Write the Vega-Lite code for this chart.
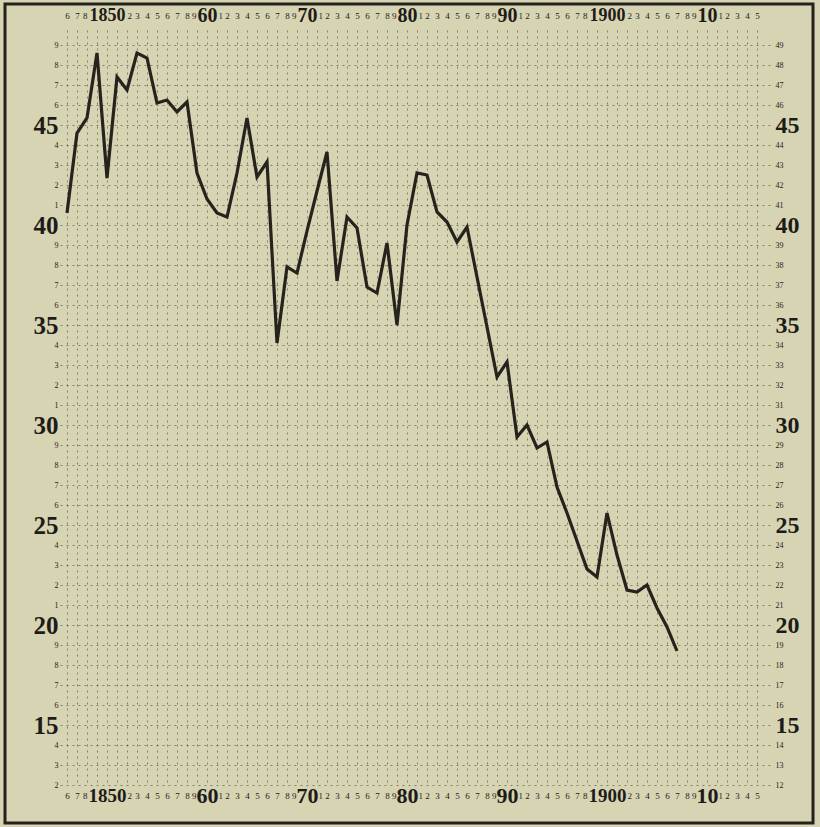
{
  "$schema": "https://vega.github.io/schema/vega-lite/v6.json",
  "width": 710,
  "height": 755,
  "autosize": {"type": "none"},
  "padding": {"left": 60, "top": 30, "right": 50, "bottom": 42},
  "background": "#d7d4b3",
  "config": {"view": {"stroke": null}},
  "datasets": {
    "series": [
      {"year": 1846, "value": 40.6}, {"year": 1847, "value": 44.6}, {"year": 1848, "value": 45.35},
      {"year": 1849, "value": 48.6}, {"year": 1850, "value": 42.35}, {"year": 1851, "value": 47.4},
      {"year": 1852, "value": 46.75}, {"year": 1853, "value": 48.6}, {"year": 1854, "value": 48.35},
      {"year": 1855, "value": 46.1}, {"year": 1856, "value": 46.25}, {"year": 1857, "value": 45.65},
      {"year": 1858, "value": 46.15}, {"year": 1859, "value": 42.6}, {"year": 1860, "value": 41.3},
      {"year": 1861, "value": 40.6}, {"year": 1862, "value": 40.4}, {"year": 1863, "value": 42.6},
      {"year": 1864, "value": 45.35}, {"year": 1865, "value": 42.4}, {"year": 1866, "value": 43.15},
      {"year": 1867, "value": 34.1}, {"year": 1868, "value": 37.9}, {"year": 1869, "value": 37.6},
      {"year": 1870, "value": 39.7}, {"year": 1871, "value": 41.7}, {"year": 1872, "value": 43.65},
      {"year": 1873, "value": 37.2}, {"year": 1874, "value": 40.4}, {"year": 1875, "value": 39.85},
      {"year": 1876, "value": 36.9}, {"year": 1877, "value": 36.6}, {"year": 1878, "value": 39.1},
      {"year": 1879, "value": 35.0}, {"year": 1880, "value": 40.0}, {"year": 1881, "value": 42.6},
      {"year": 1882, "value": 42.5}, {"year": 1883, "value": 40.65}, {"year": 1884, "value": 40.15},
      {"year": 1885, "value": 39.15}, {"year": 1886, "value": 39.9}, {"year": 1887, "value": 37.4},
      {"year": 1888, "value": 34.9}, {"year": 1889, "value": 32.4}, {"year": 1890, "value": 33.15},
      {"year": 1891, "value": 29.4}, {"year": 1892, "value": 30.0}, {"year": 1893, "value": 28.85},
      {"year": 1894, "value": 29.15}, {"year": 1895, "value": 26.9}, {"year": 1896, "value": 25.6},
      {"year": 1897, "value": 24.2}, {"year": 1898, "value": 22.8}, {"year": 1899, "value": 22.4},
      {"year": 1900, "value": 25.6}, {"year": 1901, "value": 23.5}, {"year": 1902, "value": 21.75},
      {"year": 1903, "value": 21.65}, {"year": 1904, "value": 22.0}, {"year": 1905, "value": 20.85},
      {"year": 1906, "value": 19.9}, {"year": 1907, "value": 18.7}
    ]
  },
  "resolve": {"axis": {"x": "independent", "y": "independent"}},
  "layer": [
    {
      "data": {"values": [{}]},
      "mark": {"type": "rect", "filled": false, "stroke": "#24221d", "strokeWidth": 3, "clip": false},
      "encoding": {
        "x": {"datum": 1839.8, "type": "quantitative", "scale": {"domain": [1845.3, 1916.3], "zero": false, "nice": false}, "axis": null},
        "x2": {"datum": 1920.6},
        "y": {"datum": 51.05, "type": "quantitative", "scale": {"domain": [12, 49.75], "zero": false, "nice": false}, "axis": null},
        "y2": {"datum": 10.1}
      }
    },
    {
      "data": {"name": "series"},
      "mark": {"type": "line", "color": "#26231e", "strokeWidth": 3.2, "strokeJoin": "miter"},
      "encoding": {
        "x": {
          "field": "year", "type": "quantitative",
          "scale": {"domain": [1845.3, 1916.3], "zero": false, "nice": false},
          "axis": {
            "orient": "bottom", "title": null, "domain": false, "ticks": false, "tickSize": 0,
            "values": [1846,1847,1848,1849,1850,1851,1852,1853,1854,1855,1856,1857,1858,1859,1860,1861,1862,1863,1864,1865,1866,1867,1868,1869,1870,1871,1872,1873,1874,1875,1876,1877,1878,1879,1880,1881,1882,1883,1884,1885,1886,1887,1888,1889,1890,1891,1892,1893,1894,1895,1896,1897,1898,1899,1900,1901,1902,1903,1904,1905,1906,1907,1908,1909,1910,1911,1912,1913,1914,1915],
            "labelExpr": "datum.value == 1850 ? '1850' : datum.value == 1900 ? '1900' : datum.value % 10 == 0 ? slice(toString(datum.value), 2) : (abs(datum.value - 1850) == 1 || abs(datum.value - 1900) == 1) ? '' : toString(datum.value % 10)",
            "labelOverlap": false, "labelFlush": false,
            "labelFont": "Liberation Serif", "labelColor": "#1e1c18",
            "labelFontSize": {"condition": [{"test": "datum.value == 1850 || datum.value == 1900", "value": 19}, {"test": "datum.value % 10 == 0", "value": 22}], "value": 9},
            "labelFontWeight": {"condition": {"test": "datum.value % 10 == 0", "value": "bold"}, "value": "normal"},
            "labelAlign": {"condition": [{"test": "datum.value % 10 == 9 || datum.value == 1848 || datum.value == 1898", "value": "right"}, {"test": "datum.value % 10 == 1 || datum.value == 1852 || datum.value == 1902", "value": "left"}], "value": "center"},
            "labelOffset": {"condition": [{"test": "datum.value % 10 == 9", "value": -1}, {"test": "datum.value % 10 == 1", "value": 1}], "value": 0},
            "labelBaseline": "middle", "labelPadding": 10,
            "grid": true, "gridColor": "#3a3830", "gridOpacity": 0.55, "gridDash": [2, 4], "gridWidth": 1
          }
        },
        "y": {
          "field": "value", "type": "quantitative",
          "scale": {"domain": [12, 49.75], "zero": false, "nice": false},
          "axis": {
            "orient": "left", "title": null, "domain": false, "ticks": false, "tickSize": 0,
            "values": [12,13,14,15,16,17,18,19,20,21,22,23,24,25,26,27,28,29,30,31,32,33,34,35,36,37,38,39,40,41,42,43,44,45,46,47,48,49],
            "labelExpr": "datum.value % 5 == 0 ? toString(datum.value) : toString(datum.value % 10)",
            "labelOverlap": false, "labelFlush": false,
            "labelFont": "Liberation Serif", "labelColor": "#1e1c18",
            "labelFontSize": {"condition": {"test": "datum.value % 5 == 0", "value": 25}, "value": 8},
            "labelFontWeight": {"condition": {"test": "datum.value % 5 == 0", "value": "bold"}, "value": "normal"},
            "labelPadding": 2,
            "grid": true, "gridColor": "#3a3830", "gridOpacity": 0.55, "gridDash": [2, 4], "gridWidth": 1
          }
        }
      }
    },
    {
      "data": {"name": "series"},
      "mark": {"type": "line", "strokeOpacity": 0},
      "encoding": {
        "x": {
          "field": "year", "type": "quantitative",
          "scale": {"domain": [1845.3, 1916.3], "zero": false, "nice": false},
          "axis": {
            "orient": "top", "title": null, "domain": false, "ticks": false, "tickSize": 0, "grid": false,
            "values": [1846,1847,1848,1849,1850,1851,1852,1853,1854,1855,1856,1857,1858,1859,1860,1861,1862,1863,1864,1865,1866,1867,1868,1869,1870,1871,1872,1873,1874,1875,1876,1877,1878,1879,1880,1881,1882,1883,1884,1885,1886,1887,1888,1889,1890,1891,1892,1893,1894,1895,1896,1897,1898,1899,1900,1901,1902,1903,1904,1905,1906,1907,1908,1909,1910,1911,1912,1913,1914,1915],
            "labelExpr": "datum.value == 1850 ? '1850' : datum.value == 1900 ? '1900' : datum.value % 10 == 0 ? slice(toString(datum.value), 2) : (abs(datum.value - 1850) == 1 || abs(datum.value - 1900) == 1) ? '' : toString(datum.value % 10)",
            "labelOverlap": false, "labelFlush": false,
            "labelFont": "Liberation Serif", "labelColor": "#1e1c18",
            "labelFontSize": {"condition": [{"test": "datum.value == 1850 || datum.value == 1900", "value": 18}, {"test": "datum.value % 10 == 0", "value": 20}], "value": 9},
            "labelFontWeight": {"condition": {"test": "datum.value % 10 == 0", "value": "bold"}, "value": "normal"},
            "labelAlign": {"condition": [{"test": "datum.value % 10 == 9 || datum.value == 1848 || datum.value == 1898", "value": "right"}, {"test": "datum.value % 10 == 1 || datum.value == 1852 || datum.value == 1902", "value": "left"}], "value": "center"},
            "labelOffset": {"condition": [{"test": "datum.value % 10 == 9", "value": -1}, {"test": "datum.value % 10 == 1", "value": 1}], "value": 0},
            "labelBaseline": "middle", "labelPadding": 15
          }
        },
        "y": {
          "field": "value", "type": "quantitative",
          "scale": {"domain": [12, 49.75], "zero": false, "nice": false},
          "axis": {
            "orient": "right", "title": null, "domain": false, "ticks": false, "tickSize": 0, "grid": false,
            "values": [12,13,14,15,16,17,18,19,20,21,22,23,24,25,26,27,28,29,30,31,32,33,34,35,36,37,38,39,40,41,42,43,44,45,46,47,48,49],
            "labelExpr": "toString(datum.value)",
            "labelOverlap": false, "labelFlush": false,
            "labelFont": "Liberation Serif", "labelColor": "#1e1c18",
            "labelFontSize": {"condition": {"test": "datum.value % 5 == 0", "value": 24}, "value": 8},
            "labelFontWeight": {"condition": {"test": "datum.value % 5 == 0", "value": "bold"}, "value": "normal"},
            "labelPadding": 5
          }
        }
      }
    }
  ]
}
